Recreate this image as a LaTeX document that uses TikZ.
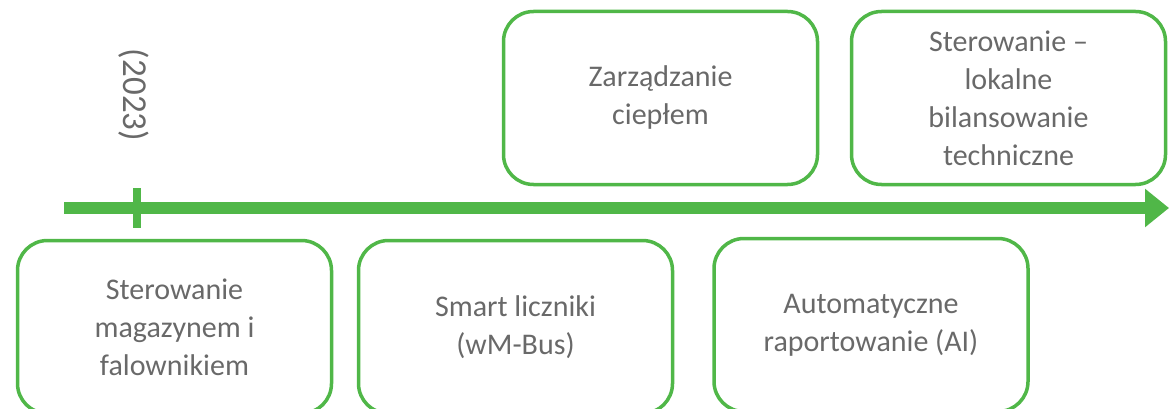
\documentclass[tikz,border=0pt]{standalone}
\usepackage{fontspec}
\setmainfont{Carlito}
\usetikzlibrary{arrows.meta}
\definecolor{tlgreen}{RGB}{80,183,72}
\definecolor{tlgrey}{RGB}{105,105,105}
\begin{document}
\begin{tikzpicture}[x=1pt,y=1pt,
  card/.style={draw=tlgreen, line width=3.5pt, rounded corners=30pt,
    minimum width=314pt, minimum height=173pt, align=center,
    text=tlgrey, font=\fontsize{30}{38}\selectfont, inner sep=0pt},
  axis/.style={tlgreen, line width=12pt, -{Triangle[length=24pt,width=37pt]}},
  tick/.style={tlgreen, line width=8pt},
  yearlbl/.style={text=tlgrey, font=\fontsize{35}{40}\selectfont, rotate=-90}]
\useasboundingbox (0,0) rectangle (1169,-409);
\clip (0,0) rectangle (1169,-409);
\coordinate (axS) at (64,-208);
\coordinate (axE) at (1169,-208);
\draw[axis] (axS) -- (axE);
\coordinate (tkT) at (137,-188);
\coordinate (tkB) at (137,-228);
\draw[tick] (tkT) -- (tkB);
\node[yearlbl] (year) at (134,-95) {(2023)};
\node[card] (b1) at (174.5,-327) {Sterowanie\\magazynem i\\falownikiem};
\node[card] (b2) at (515.5,-327) {Smart liczniki\\(wM-Bus)};
\node[card] (b3) at (871,-325) {Automatyczne\\raportowanie (AI)};
\node[card] (b4) at (660.5,-98) {Zarządzanie\\ciepłem};
\node[card] (b5) at (1008.5,-98) {Sterowanie –\\lokalne\\bilansowanie\\techniczne};
\end{tikzpicture}
\end{document}
